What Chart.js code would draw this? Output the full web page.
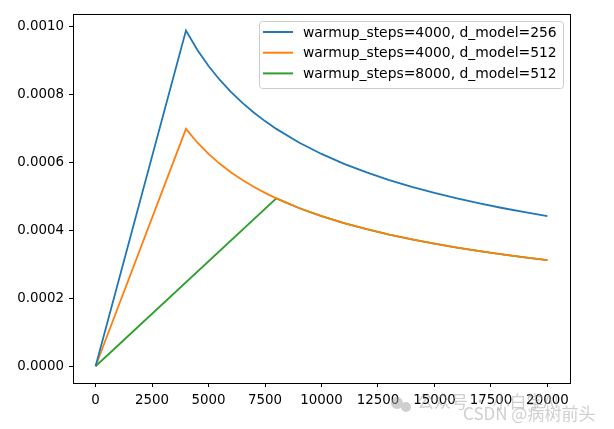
<!DOCTYPE html>
<html>
<head>
<meta charset="utf-8">
<script src="https://cdn.jsdelivr.net/npm/chart.js@4"></script>
<style>
  html, body { margin: 0; padding: 0; background: #fff; }
  #wrap { width: 614px; height: 429px; position: relative; }
</style>
</head>
<body>
<div id="wrap"><canvas id="lr"></canvas></div>
<script>
// learning rate values
var labels = ['warmup_steps=4000, d_model=256', 'warmup_steps=4000, d_model=512', 'warmup_steps=8000, d_model=512'];
var colors = ['#1f77b4', '#ff7f0e', '#2ca02c'];

var steps4k = [0, 4000, 4500, 5000, 5500, 6000, 6500, 7000, 7500, 8000, 9000, 10000, 11000, 12000, 13000, 14000, 15000, 16000, 17000, 18000, 19000, 20000];
var lr4k256 = [0, 0.00098821, 0.00093169, 0.00088388, 0.00084275, 0.00080687, 0.00077522, 0.00074702, 0.00072169, 0.00069877, 0.00065881, 0.000625, 0.00059591, 0.00057054, 0.00054816, 0.00052822, 0.00051031, 0.00049411, 0.00047935, 0.00046585, 0.00045343, 0.00044194];
var lr4k512 = [0, 0.00069877, 0.00065881, 0.000625, 0.00059591, 0.00057054, 0.00054816, 0.00052822, 0.00051031, 0.00049411, 0.00046585, 0.00044194, 0.00042137, 0.00040344, 0.00038761, 0.00037351, 0.00036084, 0.00034939, 0.00033895, 0.00032940, 0.00032062, 0.00031250];

var steps8k = [0, 8000, 9000, 10000, 11000, 12000, 13000, 14000, 15000, 16000, 17000, 18000, 19000, 20000];
var lr8k512 = [0, 0.00049411, 0.00046585, 0.00044194, 0.00042137, 0.00040344, 0.00038761, 0.00037351, 0.00036084, 0.00034939, 0.00033895, 0.00032940, 0.00032062, 0.00031250];

var xTicks = [0, 2500, 5000, 7500, 10000, 12500, 15000, 17500, 20000];
var yTicks = [0, 0.0002, 0.0004, 0.0006, 0.0008, 0.0010];

function pts(xs, ys) {
  var out = [];
  for (var i = 0; i < xs.length; i++) out.push({x: xs[i], y: ys[i]});
  return out;
}

var FONT = '"DejaVu Sans", sans-serif';

// box around plot + legend inside + watermark
var framePlugin = {
  id: 'frame',
  afterDraw: function(chart) {
    var c = chart.ctx, a = chart.chartArea;
    c.save();
    c.strokeStyle = '#000';
    c.lineWidth = 1;
    c.strokeRect(Math.round(a.left) + 0.5, Math.round(a.top) + 0.5, Math.round(a.right - a.left), Math.round(a.bottom - a.top));

    // legend
    var bx = 259, by = 21, bw = 304, bh = 67;
    c.fillStyle = 'rgba(255,255,255,0.8)';
    c.strokeStyle = '#cccccc';
    c.lineWidth = 1;
    c.beginPath();
    c.roundRect(bx + 0.5, by + 0.5, bw, bh, 3);
    c.fill();
    c.stroke();
    c.font = '13.9px ' + FONT;
    c.textBaseline = 'middle';
    chart.data.datasets.forEach(function(ds, i) {
      var y = 32 + i * 20.7;
      c.strokeStyle = ds.borderColor;
      c.lineWidth = 2;
      c.beginPath();
      c.moveTo(263, y);
      c.lineTo(293, y);
      c.stroke();
      c.fillStyle = '#000';
      c.fillText(ds.label, 303, y + 1);
    });

    // watermark
    c.globalAlpha = 0.5;
    c.fillStyle = '#a0a0a0';
    c.beginPath();
    c.arc(397, 403, 6, 0, Math.PI * 2);
    c.arc(406, 407, 5, 0, Math.PI * 2);
    c.fill();
    c.font = '17px "Noto Sans CJK SC", sans-serif';
    c.fillText('公众号 · 小白学AI', 417, 402);
    c.fillText('CSDN @病树前头', 463, 414);
    c.restore();
  }
};

var data = {
  datasets: [
    { label: labels[0], data: pts(steps4k, lr4k256), borderColor: colors[0], backgroundColor: colors[0] },
    { label: labels[1], data: pts(steps4k, lr4k512), borderColor: colors[1], backgroundColor: colors[1] },
    { label: labels[2], data: pts(steps8k, lr8k512), borderColor: colors[2], backgroundColor: colors[2] }
  ]
};

var tickFont = { family: FONT, size: 13.4 };

new Chart(document.getElementById('lr').getContext('2d'), {
  type: 'line',
  data: data,
  options: {
    responsive: true,
    maintainAspectRatio: false,
    animation: false,
    layout: { padding: { left: 0, right: 44, top: 14, bottom: 0 } },
    elements: {
      line: { borderWidth: 1.8, tension: 0, fill: false },
      point: { radius: 0 }
    },
    plugins: { legend: { display: false }, tooltip: { enabled: false } },
    scales: {
      x: {
        type: 'linear',
        min: -1000,
        max: 21000,
        afterBuildTicks: function(s) { s.ticks = xTicks.map(function(v) { return {value: v}; }); },
        afterFit: function(s) { s.height = 46; },
        grid: { drawOnChartArea: false, drawTicks: true, tickLength: 4, color: '#000' },
        border: { display: true, color: '#000' },
        ticks: { color: '#000', font: tickFont, padding: 5, maxRotation: 0, autoSkip: false,
                 callback: function(v) { return String(v); } }
      },
      y: {
        min: -0.0000494,
        max: 0.001037,
        afterBuildTicks: function(s) { s.ticks = yTicks.map(function(v) { return {value: v}; }); },
        afterFit: function(s) { s.width = 73; },
        grid: { drawOnChartArea: false, drawTicks: true, tickLength: 4, color: '#000' },
        border: { display: true, color: '#000' },
        ticks: { color: '#000', font: tickFont, padding: 5, autoSkip: false,
                 callback: function(v) { return v.toFixed(4); } }
      }
    }
  },
  plugins: [framePlugin]
});
</script>
</body>
</html>
